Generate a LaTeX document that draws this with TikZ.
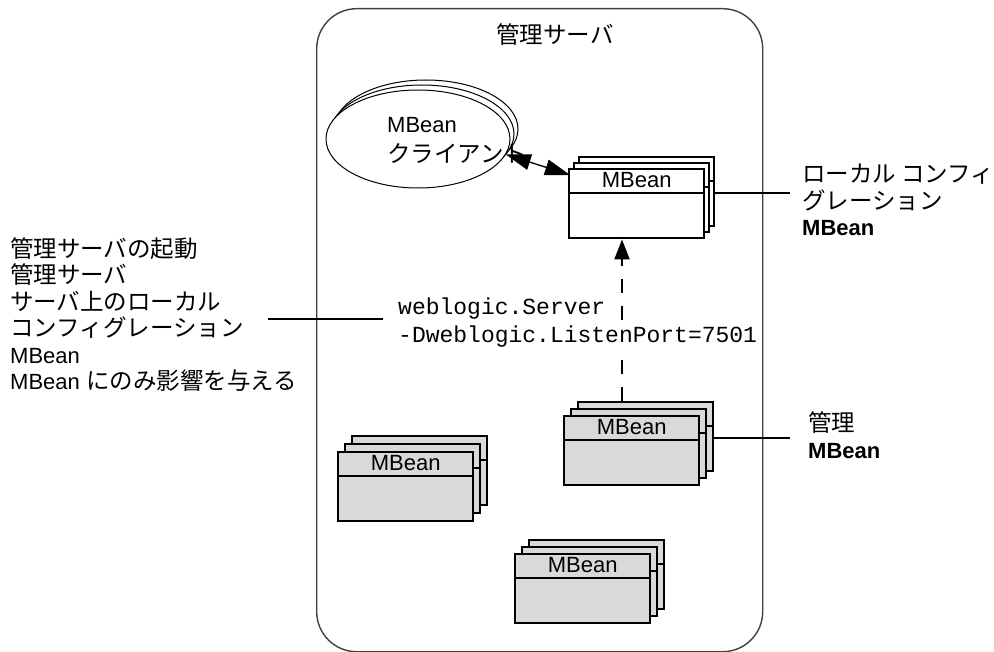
\documentclass[tikz,border=0pt]{standalone}
\usepackage{fontspec}
\setmainfont{Liberation Sans}
\setmonofont{Liberation Mono}
\newfontfamily\jp{Noto Sans CJK JP}
\newcommand\jpt{\jp\fontsize{23.5}{26.5}\selectfont}
\usetikzlibrary{arrows.meta,calc,shapes.geometric}

\definecolor{beangray}{HTML}{D9D9D9}
\definecolor{framegray}{HTML}{404040}

\tikzset{
  serverframe/.style={draw=framegray, line width=1.4pt, rounded corners=40pt,
    minimum width=446pt, minimum height=643pt, inner sep=0pt, anchor=north west},
  beanbox/.style={draw, line width=2.4pt, minimum width=135pt, minimum height=69pt,
    inner sep=0pt, anchor=north west},
  beanhead/.style={line width=2.2pt},
  beanname/.style={font=\fontsize{22}{26}\selectfont, inner sep=0pt},
  clientshape/.style={ellipse, draw, line width=1pt, fill=white,
    minimum width=184pt, minimum height=98pt, inner sep=0pt},
  leader/.style={line width=2pt},
  % multi-line labels are placed by the baseline of their last line
  lbl/.style={align=left, inner sep=0pt, anchor=base west, font=\fontsize{22}{26.5}\selectfont},
  codetext/.style={font=\ttfamily\fontsize{23}{26}\selectfont, inner sep=0pt, anchor=base west},
  bigtip/.tip={Triangle[length=25pt,width=16pt]},
  dashtip/.tip={Triangle[length=20pt,width=15pt]},
}

% a stack of three MBean boxes: name, left, top, fill, x step, y step
\newcommand\beanstack[6]{%
  \foreach \k in {2,1,0} {
    \node[beanbox, fill=#4] (#1\k) at ({#2+\k*#5},{#3-\k*#6}) {};
    \draw[beanhead] ($(#1\k.north west)+(0,25)$) -- ++(137,0);
  }
  \node[beanname] (#1name) at ($(#10.north)+(0,12.5)$) {MBean};
}

\begin{document}
\begin{tikzpicture}[x=1pt,y=-1pt]
\useasboundingbox (0,0) rectangle (994,652);

% administration server
\node[serverframe] (server) at (316,8) {};
\node[font=\jpt, inner sep=0pt, anchor=base] (title) at (555,44) {管理サーバ};

% MBean client
\node[clientshape] (clientb2) at (426,129) {};
\node[clientshape] (clientb1) at (422,134) {};
\node[clientshape] (client) at (418,139) {};
\node[lbl] (clienttext) at (387,163) {MBean\\[3.5pt]{\jpt クライアント}};

% MBean stacks
\beanstack{cfg}{568}{168}{white}{5}{6}
\beanstack{adm}{563}{415}{beangray}{7}{7}
\beanstack{admb}{337}{451}{beangray}{7}{8}
\beanstack{admc}{514}{553}{beangray}{7}{7}

% client <-> local configuration MBean
\draw[bigtip-bigtip, line width=1.3pt] (client.-10) -- ($(cfg0.north west)+(2,7)$);

% startup command
\coordinate (dashx) at (622,0);
\draw[line width=2pt, dash pattern=on 14pt off 13pt, -dashtip]
  (adm2.north -| dashx) -- (cfg0.south -| dashx);
\node[codetext] (cmd1) at (398,315) {weblogic.Server};
\node[codetext, fill=white, inner ysep=2pt] (cmd2) at (398,343) {-Dweblogic.ListenPort=7501};

% note on the left
\node[lbl] (startnote) at (10,390) {{\jpt 管理サーバの起動}\\{\jpt 管理サーバ}\\{\jpt サーバ上のローカル}\\{\jpt コンフィグレーション}\\MBean\\MBean {\jpt にのみ影響を与える}};
\coordinate (noteend) at (268,319);
\draw[leader] (noteend) -- ([xshift=-15pt]noteend -| cmd1.west);

% labels on the right
\coordinate (cfgtag) at (790,193);
\draw[leader] (cfgtag -| cfg2.east) -- (cfgtag);
\node[lbl] (cfgnote) at (802,236) {{\jpt ローカル コンフィ}\\{\jpt グレーション}\\\textbf{MBean}};

\coordinate (admtag) at (790,438);
\draw[leader] (admtag -| adm2.east) -- (admtag);
\node[lbl] (admnote) at (808,458) {{\jpt 管理}\\\textbf{MBean}};
\end{tikzpicture}
\end{document}
